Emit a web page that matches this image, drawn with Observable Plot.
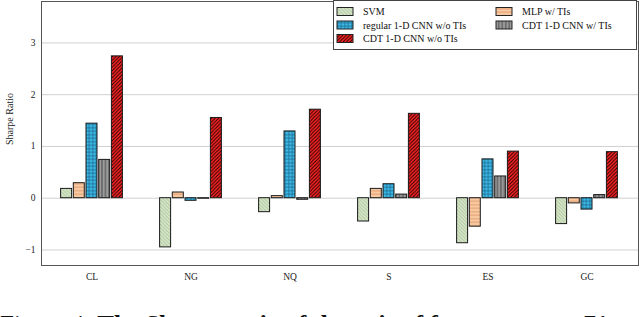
<!DOCTYPE html>
<html>
<head>
<meta charset="utf-8">
<script src="https://cdn.jsdelivr.net/npm/d3@7"></script>
<script src="https://cdn.jsdelivr.net/npm/@observablehq/plot@0.6"></script>
<style>
  html, body { margin: 0; padding: 0; background: white; width: 640px; height: 317px; overflow: hidden; }
  #chart svg { display: block; }
  #caption { font-family: "Liberation Serif", serif; font-size: 25px; line-height: 28px; white-space: nowrap; overflow: hidden; margin-top: 19px; color: #111; }
</style>
</head>
<body>
<div id="chart"></div>
<div id="caption">Figure 4: <b>The Sharpe ratio of the pair of futures over a 71</b></div>
<script>
const categories = ["CL", "NG", "NQ", "S", "ES", "GC"];
const seriesNames = ["SVM", "MLP w/ TIs", "regular 1-D CNN w/o TIs", "CDT 1-D CNN w/ TIs", "CDT 1-D CNN w/o TIs"];
const svm       = [0.18, -0.95, -0.27, -0.45, -0.87, -0.50];
const mlp       = [0.29,  0.11,  0.04,  0.18, -0.55, -0.10];
const cnnNoTI   = [1.44, -0.05,  1.29,  0.27,  0.75, -0.22];
const cdtTI     = [0.74, -0.01, -0.03,  0.07,  0.42,  0.06];
const cdtNoTI   = [2.74,  1.55,  1.71,  1.63,  0.90,  0.89];
const yTicks = [-1, 0, 1, 2, 3];
const yLabel = "Sharpe Ratio";

const seriesValues = [svm, mlp, cnnNoTI, cdtTI, cdtNoTI];
const data = seriesNames.flatMap((s, i) => categories.map((c, j) => ({series: s, cat: c, value: seriesValues[i][j]})));

// pattern definitions: [id, background, line color, kind]
const patterns = [
  ["pSVM", "#dbe9cf", "#a9c498", "nw"],
  ["pMLP", "#f8c9a2", "#df9868", "h"],
  ["pCNN", "#3cbbe9", "#1f6f96", "grid"],
  ["pCDTTI", "#9b9b9b", "#404040", "v"],
  ["pCDT", "#ff2424", "#1a0000", "ne"]
];

function defsMark() {
  const defs = d3.create("svg:defs");
  for (const [id, bg, fg, kind] of patterns) {
    const s = 3.5;
    const p = defs.append("pattern").attr("id", id).attr("patternUnits", "userSpaceOnUse")
      .attr("width", s).attr("height", s);
    p.append("rect").attr("width", s).attr("height", s).attr("fill", bg);
    const line = (x1, y1, x2, y2) => p.append("line").attr("x1", x1).attr("y1", y1).attr("x2", x2).attr("y2", y2)
      .attr("stroke", fg).attr("stroke-width", 0.9);
    if (kind === "h") line(0, s / 2, s, s / 2);
    else if (kind === "v") line(s / 2, 0, s / 2, s);
    else if (kind === "grid") { line(0, s / 2, s, s / 2); line(s / 2, 0, s / 2, s); }
    else if (kind === "ne") { line(0, s, s, 0); line(-1, 1, 1, -1); line(s - 1, s + 1, s + 1, s - 1); }
    else if (kind === "nw") { line(0, 0, s, s); line(-1, s - 1, 1, s + 1); line(s - 1, -1, s + 1, 1); }
  }
  return defs.node();
}

function legendMark() {
  const g = d3.create("svg:g").attr("font-family", "Liberation Serif, serif").attr("font-size", "10px")
    .attr("text-anchor", "start");
  g.append("rect").attr("x", 333.5).attr("y", 0.5).attr("width", 303).attr("height", 49)
    .attr("fill", "white").attr("stroke", "#444").attr("stroke-width", 1);
  const cols = [337, 496];
  const rows = [7.5, 21, 34.5];
  seriesNames.forEach((name, i) => {
    const c = i % 2, r = Math.floor(i / 2);
    g.append("rect").attr("x", cols[c]).attr("y", rows[r]).attr("width", 16).attr("height", 8)
      .attr("fill", `url(#${patterns[i][0]})`).attr("stroke", "#222").attr("stroke-width", 1);
    g.append("text").attr("x", cols[c] + 26).attr("y", rows[r] + 7.5).attr("fill", "#111")
      .attr("text-anchor", "start").text(name);
  });
  return g.node();
}

function yLabelMark() {
  const t = d3.create("svg:text")
    .attr("transform", "translate(12.5,119) rotate(-90)")
    .attr("text-anchor", "middle").attr("font-size", "10px").attr("fill", "#222")
    .text(yLabel);
  return t.node();
}

const barWidthStep = 12.7;
const barMarks = seriesNames.map((name, i) =>
  Plot.barY(data.filter(d => d.series === name), {
    x: "cat", y: "value",
    fill: `url(#${patterns[i][0]})`,
    stroke: "#1a1a1a", strokeWidth: 1,
    dx: (i - 2) * barWidthStep
  })
);

const chart = Plot.plot({
  width: 640,
  height: 292,
  marginTop: 1,
  marginBottom: 27,
  marginLeft: 41,
  marginRight: 2,
  style: {fontFamily: "Liberation Serif, serif", fontSize: "9.5px", background: "white", color: "#222"},
  x: {type: "band", domain: categories, paddingInner: 0.8844, paddingOuter: 0.442},
  y: {domain: [-1.3, 3.8]},
  marks: [
    defsMark,
    Plot.gridY(yTicks, {stroke: "#d0d0d0", strokeOpacity: 1, strokeWidth: 1}),
    ...barMarks,
    Plot.frame({stroke: "#555", strokeWidth: 1}),
    Plot.axisX({tickSize: 0, tickPadding: 8, label: null}),
    Plot.axisY(yTicks, {tickSize: 0, tickPadding: 6, tickFormat: d3.format("d"), label: null}),
    yLabelMark,
    legendMark
  ]
});
document.getElementById("chart").appendChild(chart);
</script>
</body>
</html>
